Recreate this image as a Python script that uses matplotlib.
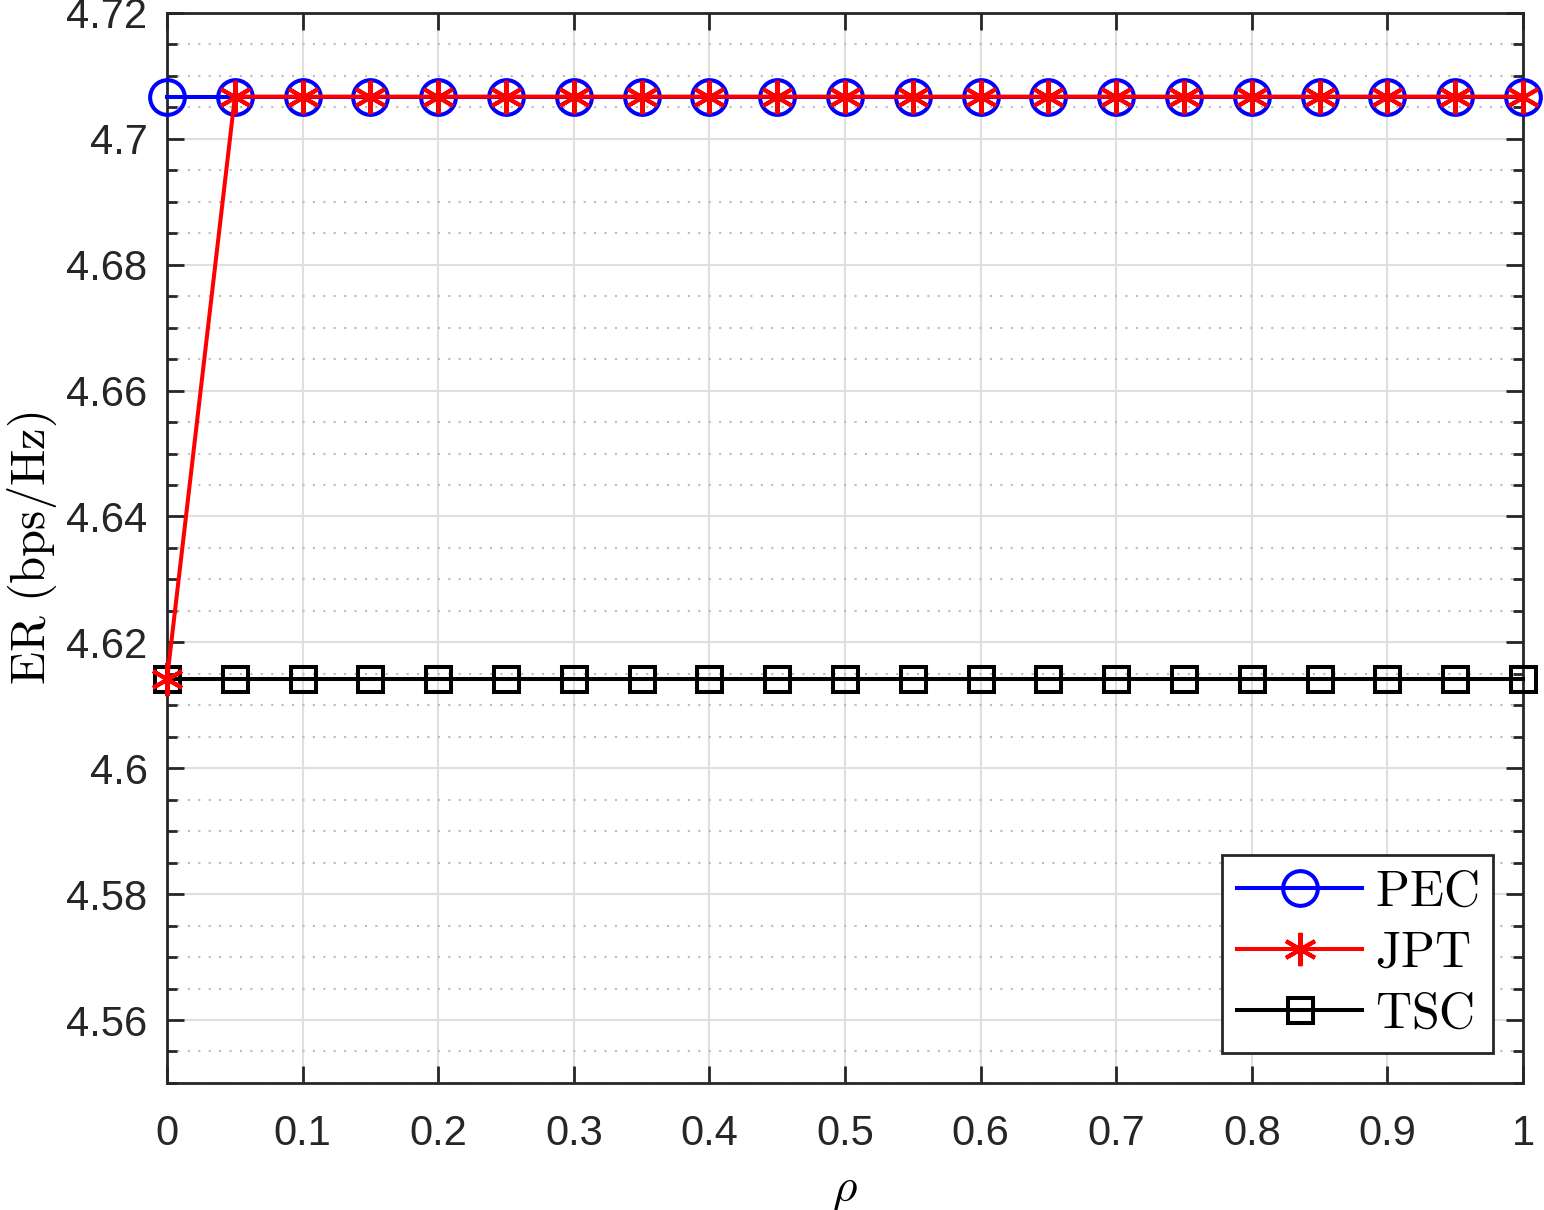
import numpy as np
from matplotlib import pyplot as plt
from matplotlib.ticker import MultipleLocator
from matplotlib.lines import Line2D

rho = np.round(np.arange(0, 1.0001, 0.05), 2)
pec = [4.7067] * 21
jpt = [4.6142] + [4.7067] * 20
tsc = [4.6142] * 21

plt.rcParams['mathtext.fontset'] = 'cm'
plt.rcParams['font.family'] = ['Liberation Sans', 'DejaVu Sans']

fig = plt.figure(figsize=(15.44, 12.10), dpi=100)
ax = fig.add_axes([0.1082, 0.105, 0.8782, 0.8843])

lw = 2.9
star = (6, 2, 0)
ax.plot(rho, pec, color='blue', lw=lw, marker='o', ms=25, mfc='none', mew=2.9, clip_on=False, zorder=3)
ax.plot(rho, jpt, color='red', lw=lw, marker=star, ms=24, mew=2.9, clip_on=False, zorder=4)
ax.plot(rho, tsc, color='black', lw=lw, marker='s', ms=18, mfc='none', mew=2.9, clip_on=False, zorder=3)

ax.set_xlim(0, 1)
ax.set_ylim(4.55, 4.72)
ax.set_xticks(np.arange(0, 1.01, 0.1))
ax.set_xticklabels(['0', '0.1', '0.2', '0.3', '0.4', '0.5', '0.6', '0.7', '0.8', '0.9', '1'])
yt = np.arange(4.56, 4.7201, 0.02)
ax.set_yticks(yt)
ax.set_yticklabels(['%g' % round(v, 2) for v in yt])
ax.yaxis.set_minor_locator(MultipleLocator(0.005))

ax.grid(True, which='major', color='#dfdfdf', lw=1.5)
ax.grid(True, which='minor', axis='y', color='#bdbdbd', lw=1.5, ls=(0, (1, 4)))
ax.set_axisbelow(True)

ax.tick_params(which='both', direction='in', top=True, right=True, colors='#262626', labelsize=30)
ax.tick_params(which='major', length=12, width=2)
ax.tick_params(axis='x', which='major', pad=22)
ax.tick_params(axis='y', which='major', pad=14)
ax.tick_params(which='minor', length=7, width=2)
for s in ax.spines.values():
    s.set_color('#262626')
    s.set_linewidth(2)

ax.set_xlabel(r'$\rho$', fontsize=34)
ax.xaxis.set_label_coords(0.5, -0.08)
ax.set_ylabel(r'$\mathrm{ER\ (bps/Hz)}$', fontsize=35)
ax.yaxis.set_label_coords(-0.08, 0.5)

h = [Line2D([], [], color='blue', lw=lw, marker='o', ms=25, mfc='none', mew=2.9),
     Line2D([], [], color='red', lw=lw, marker=star, ms=24, mew=2.9),
     Line2D([], [], color='black', lw=lw, marker='s', ms=18, mfc='none', mew=2.9)]
leg = ax.legend(h, [r'$\mathrm{PEC}$', r'$\mathrm{JPT}$', r'$\mathrm{TSC}$'], loc='lower right',
                fontsize=36, fancybox=False, edgecolor='#262626', framealpha=1,
                handlelength=2.5, borderaxespad=0.6, labelspacing=0.3, handletextpad=0.25,
                borderpad=0.3)
leg.get_frame().set_linewidth(2)

plt.savefig('out.png', dpi=100)
